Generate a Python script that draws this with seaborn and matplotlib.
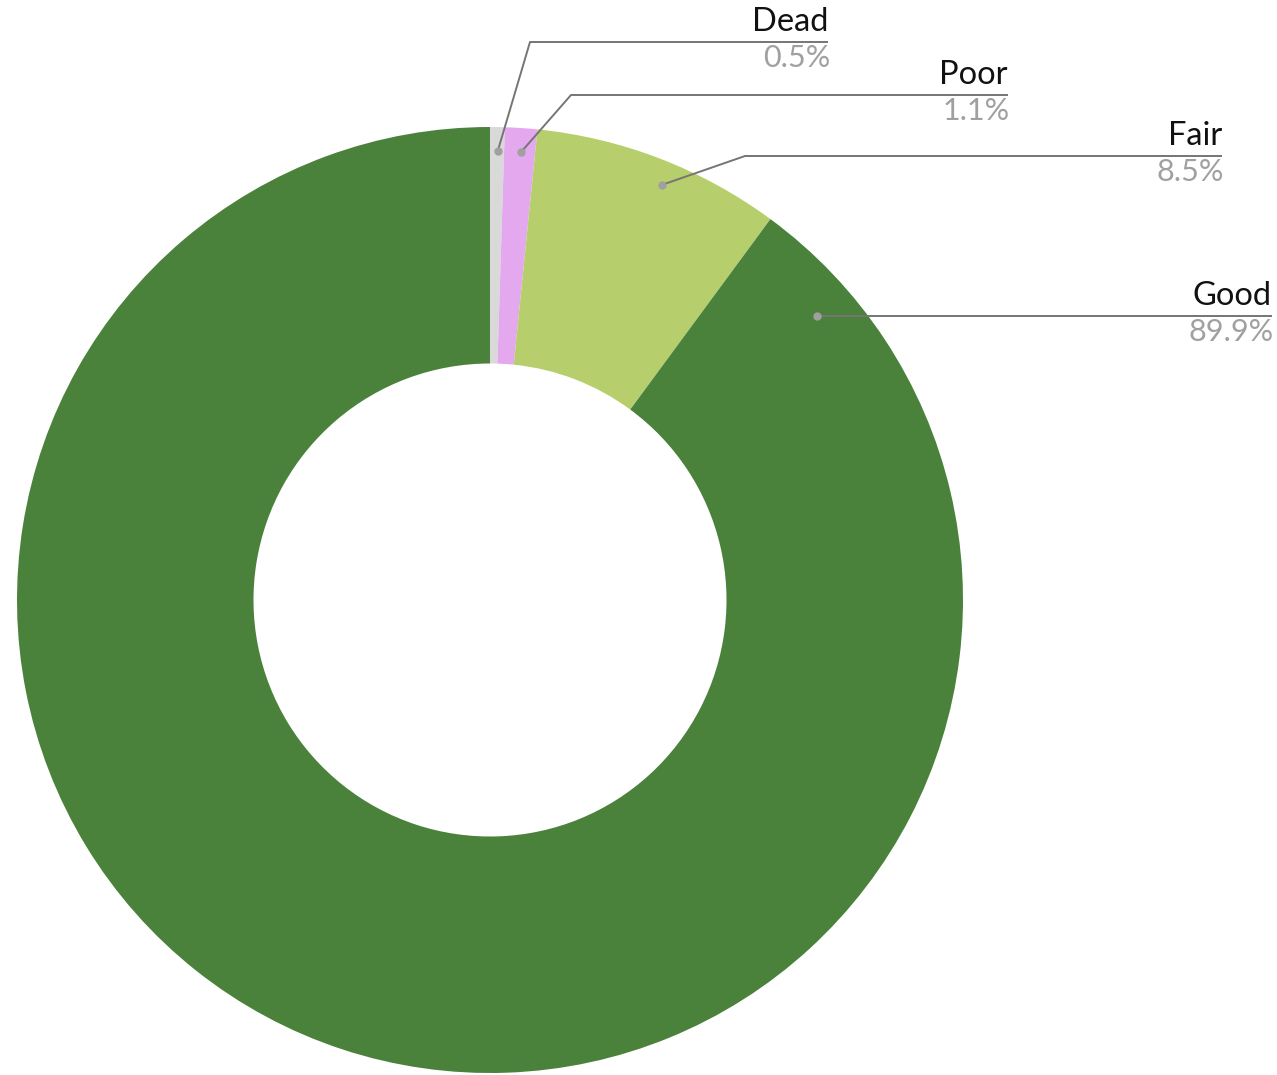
import numpy as np
import matplotlib
matplotlib.use("Agg")
import matplotlib.pyplot as plt
import seaborn as sns

# Tree condition shares (percent)
conditions = ['Dead', 'Poor', 'Fair', 'Good']
shares = [0.5, 1.1, 8.5, 89.9]
share_labels = ['0.5%', '1.1%', '8.5%', '89.9%']
colors = ['#d9d9d9', '#e4a8ee', '#b6cf6c', '#4b823b']

# Label layout (pixel space, y measured from top)
anchor_deg = [1.0, 4.0, 22.5, 49.0]    # compass angle of leader-line dot
elbow_xy = [(530, 42), (571, 95), (745, 156), None]
line_y = [42, 95, 156, 316]
line_end = [828, 1008, 1222, 1272]

W, H = 1277, 1075
cx, cy, R = 490, 600, 473

sns.set_theme(style='white')
plt.rcParams['font.family'] = ['Lato', 'DejaVu Sans']

fig = plt.figure(figsize=(W / 100, H / 100), dpi=100)
ax = fig.add_axes([0, 0, 1, 1])

ax.pie(shares, colors=colors, startangle=90, counterclock=False,
       center=(cx, H - cy), radius=R,
       wedgeprops=dict(width=R * 0.5, linewidth=0))

# pie resets the limits, so set the pixel frame afterwards
ax.set_xlim(0, W)
ax.set_ylim(0, H)
ax.set_aspect('equal')
ax.axis('off')

line_col = '#757575'
dot_col = '#a0a0a0'
for i, name in enumerate(conditions):
    a = np.deg2rad(anchor_deg[i])
    r = R * 0.95 if i < 3 else R * 0.915
    dx, dy = cx + r * np.sin(a), cy - r * np.cos(a)
    if elbow_xy[i] is not None:
        ex, ey = elbow_xy[i]
        xs = [dx, ex, line_end[i]]
        ys = [dy, ey, line_y[i]]
    else:
        xs = [dx, line_end[i]]
        ys = [line_y[i], line_y[i]]
        dy = line_y[i]
    ax.plot(xs, [H - v for v in ys], color=line_col, lw=1.4,
            solid_capstyle='butt', zorder=3)
    ax.plot(dx, H - dy, 'o', color=dot_col, ms=5, zorder=4)
    ax.text(line_end[i], H - line_y[i] + 5, name, ha='right', va='bottom',
            fontsize=23.5, color='#111111')
    ax.text(line_end[i] + 2, H - line_y[i] - 2, share_labels[i], ha='right',
            va='top', fontsize=22, color='#a0a0a0')

fig.savefig('out.png', dpi=100, facecolor='white')
